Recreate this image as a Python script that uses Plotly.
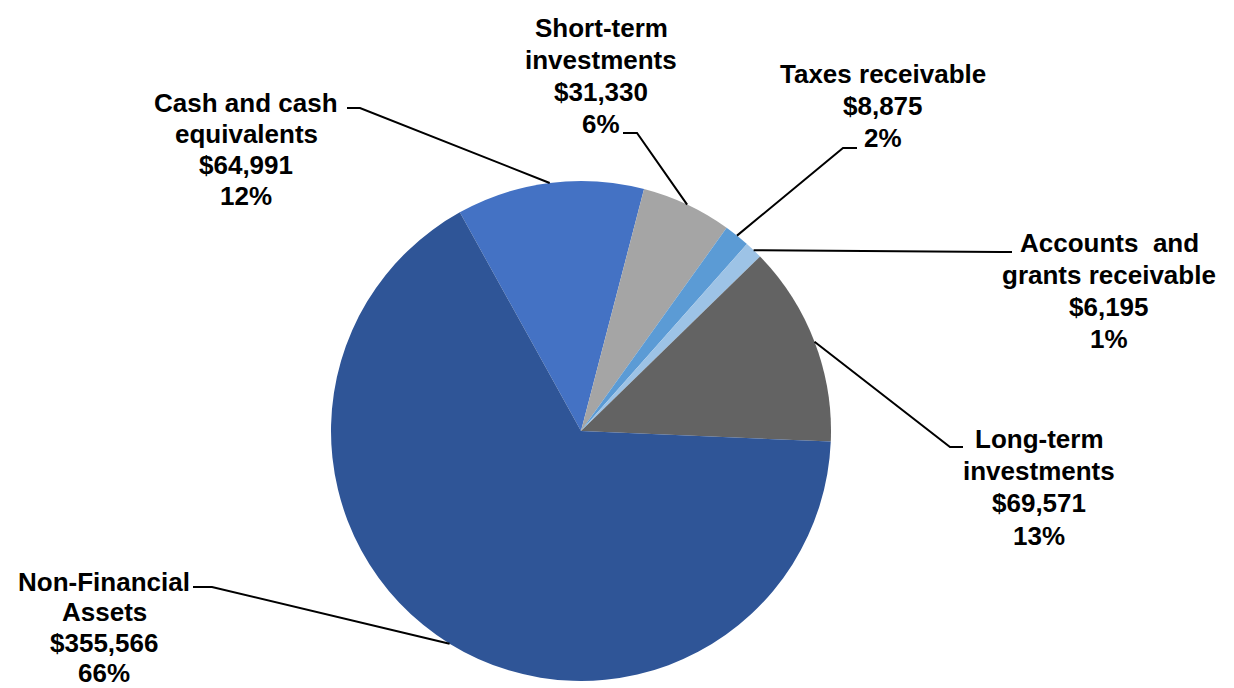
import math
import plotly.graph_objects as go

# Asset categories (line breaks as shown in the labels) and their values
categories = [
    "Cash and cash\nequivalents",
    "Short-term\ninvestments",
    "Taxes receivable",
    "Accounts  and\ngrants receivable",
    "Long-term\ninvestments",
    "Non-Financial\nAssets",
]
values = [64991, 31330, 8875, 6195, 69571, 355566]
colors = ["#4472C4", "#A5A5A5", "#5B9BD5", "#9DC3E6", "#636363", "#2F5597"]

W, H = 1234, 688
CX, CY, R = 581, 431, 250          # pie centre and radius in pixels
START = -29.0                      # angle of first slice edge (deg, clockwise from 12 o'clock)

# label placement: centre x, middle of first text line, line step (pixels)
label_pos = [(246, 103, 30.9), (601, 28, 32.0), (883, 74, 32.0),
             (1109, 243, 32.0), (1039, 439, 32.2), (104, 582, 30.4)]
# leader-line elbow and end points (pixels)
leader_pts = [
    [(360, 108), (347, 108)],
    [(637, 133), (623, 133)],
    [(843, 148), (857, 148)],
    [(1000, 252), (1012, 252)],
    [(950, 447), (963, 447)],
    [(212, 587), (193, 587)],
]
FONT = dict(family="Liberation Sans, Arial, sans-serif", size=26, color="#000000")


def px(x):
    return x / W


def py(y):
    return 1 - y / H


total = sum(values)

fig = go.Figure(
    go.Pie(
        labels=[c.replace("\n", " ") for c in categories],
        values=values,
        marker=dict(colors=colors, line=dict(width=0)),
        sort=False,
        direction="clockwise",
        rotation=START,
        textinfo="none",
        hoverinfo="label+value+percent",
        showlegend=False,
        domain=dict(x=[px(CX - R), px(CX + R)], y=[py(CY + R), py(CY - R)]),
    )
)

annotations = []
shapes = []
cum = 0.0
for cat, val, (lx, ly, step), pts in zip(categories, values, label_pos, leader_pts):
    frac = val / total
    mid = math.radians(START + (cum + frac / 2) * 360)
    cum += frac
    ex, ey = CX + R * math.sin(mid), CY - R * math.cos(mid)

    lines = cat.split("\n") + [f"${val:,}", f"{round(frac * 100)}%"]
    for i, t in enumerate(lines):
        annotations.append(
            dict(
                x=px(lx), y=py(ly + i * step), xref="paper", yref="paper",
                text=f"<b>{t}</b>", showarrow=False, font=FONT,
                xanchor="center", yanchor="middle",
            )
        )

    path = f"M {px(ex)},{py(ey)}" + "".join(f" L {px(x)},{py(y)}" for x, y in pts)
    shapes.append(
        dict(type="path", path=path, xref="paper", yref="paper",
             line=dict(color="#000000", width=2))
    )

fig.update_layout(
    width=W, height=H,
    margin=dict(l=0, r=0, t=0, b=0),
    paper_bgcolor="#FFFFFF",
    plot_bgcolor="#FFFFFF",
    annotations=annotations,
    shapes=shapes,
)

fig.write_html("out.html")
